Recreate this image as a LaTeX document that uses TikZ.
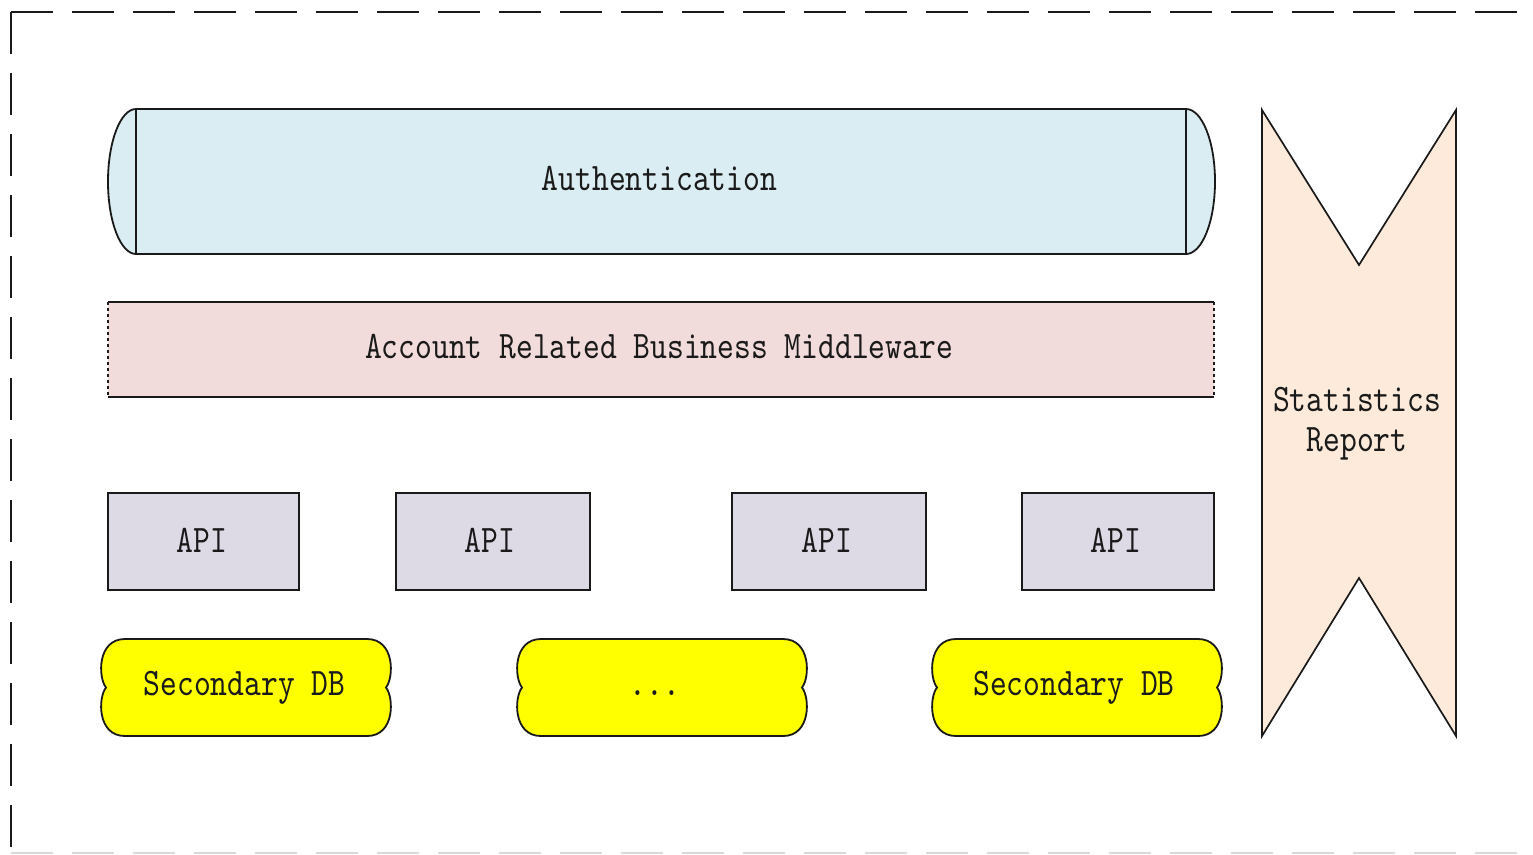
\documentclass[tikz,border=0pt]{standalone}
\usepackage{fontspec}
\newfontfamily\monofont[FakeStretch=0.82]{lmmono10-regular.otf}
\definecolor{authfill}{HTML}{DAEDF2}
\definecolor{mwfill}{HTML}{F2DCDB}
\definecolor{apifill}{HTML}{DDD9E5}
\definecolor{statfill}{HTML}{FDEADB}
\definecolor{dbyellow}{HTML}{FFFF00}
\definecolor{ink}{HTML}{1A1A1A}
\tikzset{
  txt/.style={font=\monofont\fontsize{39}{40}\selectfont, text=ink, inner sep=0pt, align=center},
  outline/.style={draw=ink, line width=1.8pt},
  apibox/.style={outline, fill=apifill, minimum width=#1, minimum height=97, inner sep=0pt},
  dbshape/.pic={
    \draw[outline, fill=dbyellow] (24,0) -- (266,0)
      .. controls (294,0) and (293,38.5) .. (285,48.5)
      .. controls (293,58.5) and (294,97) .. (266,97)
      -- (24,97)
      .. controls (-4,97) and (-3,58.5) .. (5,48.5)
      .. controls (-3,38.5) and (-4,0) .. (24,0) -- cycle;
  }
}
\begin{document}
\begin{tikzpicture}[x=1pt,y=-1pt]
\useasboundingbox (0,0) rectangle (1533,854);
% outer dashed frame
\draw[line width=2.8pt, draw=ink, dash pattern=on 42pt off 19pt] (11,12) -- (1533,12);
\draw[line width=2.8pt, draw=ink, dash pattern=on 42pt off 19pt] (11,12) -- (11,854);
\draw[line width=2pt, draw=black!15, dash pattern=on 42pt off 19pt] (11,853) -- (1533,853);
% Authentication cylinder
\draw[outline, fill=authfill] (136,109) -- (1186,109)
  arc[start angle=-90, end angle=90, x radius=29, y radius=72.5]
  -- (136,254)
  arc[start angle=90, end angle=270, x radius=28, y radius=72.5] -- cycle;
\draw[outline] (136,109) -- (136,254);
\draw[outline] (1186,109) -- (1186,254);
\node[txt, anchor=base] (auth) at (659.5,190) {Authentication};
% Middleware
\fill[mwfill] (108,302) rectangle (1214,397);
\draw[outline] (108,302) -- (1214,302);
\draw[outline] (108,397) -- (1214,397);
\draw[draw=ink, line width=1.3pt, dash pattern=on 3pt off 3pt] (108,302) -- (108,397);
\draw[draw=ink, line width=1.3pt, dash pattern=on 3pt off 3pt] (1214,302) -- (1214,397);
\node[txt, anchor=base] (mw) at (659,358) {Account Related Business Middleware};
% API boxes
\node[apibox=191] (api1) at (203.5,541.5) {};
\node[apibox=194] (api2) at (493,541.5) {};
\node[apibox=194] (api3) at (829,541.5) {};
\node[apibox=192] (api4) at (1118,541.5) {};
\node[txt, anchor=base] (api1t) at (202,552) {API};
\node[txt, anchor=base] (api2t) at (490,552) {API};
\node[txt, anchor=base] (api3t) at (827,552) {API};
\node[txt, anchor=base] (api4t) at (1116,552) {API};
% Secondary DBs
\pic at (101,639) {dbshape};
\pic at (517,639) {dbshape};
\pic at (932,639) {dbshape};
\node[txt, anchor=base] (db1) at (244.5,695) {Secondary DB};
\node[txt, anchor=base] (db2) at (655,695) {...};
\node[txt, anchor=base] (db3) at (1074,695) {Secondary DB};
% Statistics report
\draw[outline, line width=1.7pt, fill=statfill] (1262,110) -- (1359,265) -- (1456,110)
  -- (1456,736) -- (1359,578) -- (1262,736) -- cycle;
\node[txt] (stat) at (1357,424) {Statistics\\Report};
\end{tikzpicture}
\end{document}
